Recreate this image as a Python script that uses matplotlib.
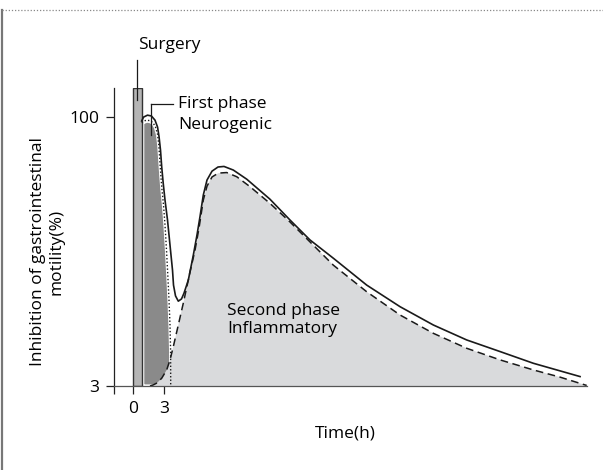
import matplotlib
matplotlib.use("Agg")
import matplotlib.pyplot as plt
from matplotlib.lines import Line2D

plt.rcParams['font.family'] = ['Open Sans', 'DejaVu Sans']

# ---- data (time in hours, inhibition in %) ----
surgery_start = 0.0
surgery_end = 0.855
surgery_top = 110.5

total_t = [0.855, 1.03, 1.405, 1.78, 2.118, 2.36, 2.50, 2.640, 2.754, 2.896, 3.067,
           3.305, 3.590, 3.780, 3.875, 4.065, 4.330, 4.634, 4.872, 5.280, 5.755,
           6.106, 6.391, 6.705, 7.056, 7.531, 8.101, 8.670, 9.554, 10.83, 13.03,
           14.93, 16.83, 19.05, 22.22, 25.39, 28.55, 31.72, 34.90, 38.04, 42.48]
total_v = [98.6, 100.0, 100.7, 100.4, 98.9, 96.4, 93.0, 88.1, 82.1, 76.2, 70.1,
           62.9, 52.0, 44.8, 39.4, 35.5, 33.6, 34.4, 36.5, 41.2, 50.2,
           57.5, 64.1, 71.9, 77.3, 80.5, 82.0, 82.2, 80.9, 77.6, 70.4,
           62.9, 55.7, 49.1, 39.4, 31.6, 25.0, 19.6, 15.4, 11.2, 6.4]

neuro_t = [0.855, 1.073, 1.330, 1.643, 1.928, 2.165, 2.355, 2.479, 2.574, 2.669,
           2.783, 2.925, 3.067, 3.210, 3.333, 3.447, 3.542, 3.599, 3.609]
neuro_v = [98.0, 98.6, 98.9, 98.7, 98.0, 96.4, 93.9, 89.9, 84.5, 79.1,
           73.7, 68.3, 61.1, 52.0, 43.0, 34.0, 25.0, 16.0, 3.0]

infl_t = [1.643, 1.956, 2.308, 2.754, 3.229, 3.542, 3.856, 4.330, 4.805, 5.442,
          5.917, 6.297, 6.705, 7.056, 7.531, 8.129, 8.927, 9.877, 11.14, 13.03,
          14.93, 16.83, 19.05, 22.22, 25.39, 28.55, 31.72, 34.90, 38.04, 40.58, 43.11]
infl_v = [3.0, 3.4, 4.1, 5.8, 8.8, 12.4, 17.2, 25.0, 32.9, 44.1,
          52.0, 60.0, 70.1, 75.1, 78.4, 79.8, 80.0, 78.5, 74.9, 68.9,
          62.2, 55.0, 46.6, 37.0, 28.6, 22.0, 16.6, 12.4, 8.8, 6.2, 3.2]

x_ticks = [0, 3]
x_tick_labels = ['0', '3']
y_ticks = [3, 100]
y_tick_labels = ['3', '100']

baseline = 3.0
x_min, x_max = -1.747, 43.11
y_min, y_max = 3.0, 110.5

# ---- figure ----
fig = plt.figure(figsize=(6.03, 4.70), dpi=100)
ax = fig.add_axes([114.3/603, 1-386/470, (586.7-114.3)/603, (386-88)/470])

line_col = '#1a1a1a'
ax.fill_between(neuro_t, baseline, neuro_v, facecolor='#8a8a8a',
                edgecolor='white', linewidth=3.0, zorder=2)
ax.fill_between(infl_t, baseline, infl_v, facecolor='#d9dadc',
                edgecolor='none', linewidth=0, zorder=3)
ax.bar([surgery_start], [surgery_top - baseline], bottom=baseline,
       width=surgery_end - surgery_start, align='edge',
       facecolor='#b5b5b5', edgecolor='#333333', linewidth=1.0, zorder=4)
ax.plot(total_t, total_v, color=line_col, lw=1.2, zorder=6)
ax.plot(infl_t, infl_v, color=line_col, lw=1.1, ls=(0, (5, 3)), zorder=6)
ax.plot(neuro_t, neuro_v, color=line_col, lw=1.0, ls=(0, (1, 1.5)), zorder=6)

# leader lines
ax.plot([0.437, 0.437], [106.1, 120.6], color=line_col, lw=0.9,
        clip_on=False, zorder=7)
ax.plot([1.709, 3.827], [104.7, 104.7], color=line_col, lw=0.9,
        clip_on=False, zorder=7)
ax.plot([1.709, 1.709], [93.5, 104.7], color=line_col, lw=0.9,
        clip_on=False, zorder=7)

fs = 12.5
ax.text(0.5, 126.0, 'Surgery', ha='left', va='center', fontsize=fs,
        clip_on=False)
ax.text(4.30, 104.7, 'First phase', ha='left', va='center', fontsize=fs)
ax.text(4.30, 97.1, 'Neurogenic', ha='left', va='center', fontsize=fs)
ax.text(8.955, 30.0, 'Second phase', ha='left', va='center', fontsize=fs)
ax.text(8.955, 23.4, 'Inflammatory', ha='left', va='center', fontsize=fs)

ax.set_xlim(x_min, x_max)
ax.set_ylim(y_min, y_max)
for s in ['top', 'right']:
    ax.spines[s].set_visible(False)
ax.spines['left'].set_color('#222222')
ax.spines['bottom'].set_color('#555555')
ax.spines['left'].set_linewidth(0.9)
ax.spines['bottom'].set_linewidth(0.9)
ax.spines['left'].set_zorder(8)
ax.spines['bottom'].set_zorder(8)

ax.set_xticks([x_min] + x_ticks)
ax.set_xticklabels([''] + x_tick_labels)
ax.set_yticks(y_ticks)
ax.set_yticklabels(y_tick_labels)
ax.tick_params(axis='both', direction='out', length=6, width=0.9,
               color='#222222', labelsize=fs, pad=5)
ax.patch.set_alpha(0)

fig.text(345/603, 1-433/470, 'Time(h)', ha='center', va='center', fontsize=fs)
fig.text(47/603, 1-252/470, 'Inhibition of gastrointestinal\nmotility(%)',
         ha='center', va='center', rotation=90, fontsize=fs,
         multialignment='center', linespacing=1.2)

# frame decorations
fig.add_artist(Line2D([2/603, 2/603], [0, 1-10/470], color='#777777',
                      lw=1.6, transform=fig.transFigure))
fig.add_artist(Line2D([2/603, 1], [1-10/470, 1-10/470], color='#888888',
                      lw=0.9, ls=(0, (1, 1.5)), transform=fig.transFigure))

fig.savefig('out.png', dpi=100)
